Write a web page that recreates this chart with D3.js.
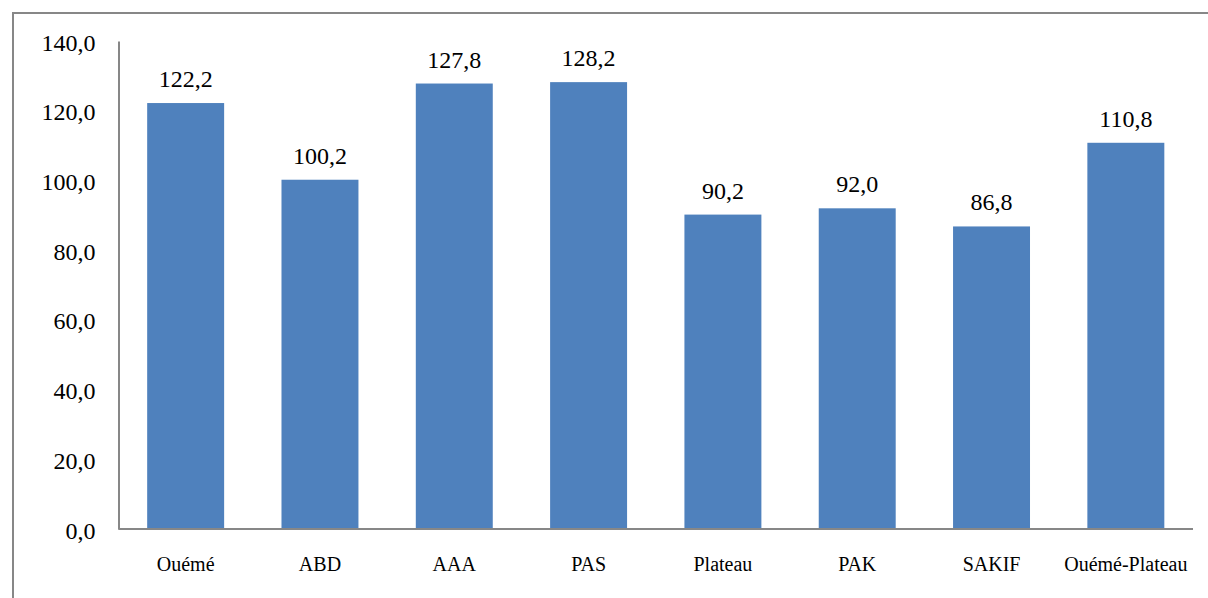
<!DOCTYPE html>
<html><head><meta charset="utf-8">
<script src="https://cdn.jsdelivr.net/npm/d3@7"></script>
<style>body{margin:0;background:#fff}svg{display:block}svg text{font-family:"Liberation Serif",Tinos,"Times New Roman",serif !important}</style>
</head><body>
<script>
const categories = ["Ouémé","ABD","AAA","PAS","Plateau","PAK","SAKIF","Ouémé-Plateau"];
const values = [122.2,100.2,127.8,128.2,90.2,92.0,86.8,110.8];
const yTicks = [0,20,40,60,80,100,120,140];

const W = 1208, H = 598;
const svg = d3.select("body").append("svg").attr("width",W).attr("height",H);
svg.append("rect").attr("x",0).attr("y",0).attr("width",W).attr("height",H).attr("fill","#fff");
svg.append("rect").attr("x",13).attr("y",13).attr("width",W+20).attr("height",H+20)
  .attr("fill","none").attr("stroke","#878787").attr("stroke-width",2);

const m = {left:118.5, right:1193, top:41, bottom:529};
const x = d3.scaleBand().domain(categories).range([m.left,m.right]).paddingInner(0.427).paddingOuter(0.2135);
const y = d3.scaleLinear().domain([0,140]).range([m.bottom,m.top]);

svg.selectAll("rect.bar").data(values).join("rect").attr("class","bar")
  .attr("x",(d,i)=>x(categories[i])).attr("width",x.bandwidth())
  .attr("y",d=>y(d)).attr("height",d=>y(0)-y(d)).attr("fill","#4F81BD");

const fmt = v => v.toFixed(1).replace(".",",");

const yAxis = d3.axisLeft(y).tickValues(yTicks).tickSize(0).tickPadding(23).tickFormat(fmt);
const gy = svg.append("g").attr("transform",`translate(${m.left},0)`).call(yAxis);
gy.select(".domain").attr("stroke","#878787").attr("stroke-width",2);
gy.selectAll("text").attr("font-size",24).attr("fill","#000").attr("dy","9px");

const xAxis = d3.axisBottom(x).tickSize(0);
const gx = svg.append("g").attr("transform",`translate(0,${m.bottom})`).call(xAxis);
gx.select(".domain").attr("stroke","#878787").attr("stroke-width",2).attr("d",`M${m.left},0H${m.right}`);
gx.selectAll("text").attr("font-size",20).attr("fill","#000").attr("y",42).attr("dy",0);

svg.selectAll("text.val").data(values).join("text").attr("class","val")
  .attr("x",(d,i)=>x(categories[i])+x.bandwidth()/2).attr("y",d=>y(d)-16)
  .attr("text-anchor","middle").attr("font-size",24).attr("fill","#000")
  .text(fmt);
</script>
</body></html>
